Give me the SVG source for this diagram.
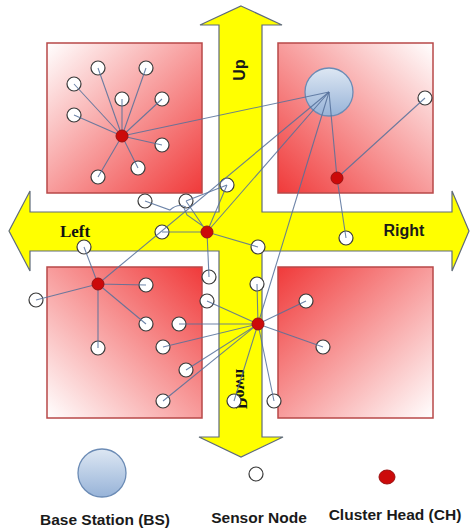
<svg xmlns="http://www.w3.org/2000/svg" width="470" height="529" viewBox="0 0 470 529">
<defs>
<linearGradient id="gTL" x1="0" y1="0" x2="1" y2="1"><stop offset="0" stop-color="#ffffff"/><stop offset="1" stop-color="#f03a3a"/></linearGradient>
<linearGradient id="gTR" x1="1" y1="0" x2="0" y2="1"><stop offset="0" stop-color="#ffffff"/><stop offset="1" stop-color="#f03a3a"/></linearGradient>
<linearGradient id="gBL" x1="0" y1="1" x2="1" y2="0"><stop offset="0" stop-color="#ffffff"/><stop offset="1" stop-color="#f03a3a"/></linearGradient>
<linearGradient id="gBR" x1="1" y1="1" x2="0" y2="0"><stop offset="0" stop-color="#ffffff"/><stop offset="1" stop-color="#f03a3a"/></linearGradient>
<linearGradient id="gBS" x1="0" y1="0" x2="0" y2="1"><stop offset="0" stop-color="#dde7f3"/><stop offset="1" stop-color="#97b3d8"/></linearGradient>
</defs>
<style>
.sq{stroke:#b84848;stroke-width:1.5}
.arrow{fill:#ffff00;stroke:#5f6b7a;stroke-width:1.2}
.sn{fill:#ffffff;stroke:#3a3a3a;stroke-width:1.2}
.ch{fill:#cc0a0a;stroke:#9a1010;stroke-width:1}
.bs{fill:url(#gBS);stroke:#6b8bb5;stroke-width:1.3}
.ln{stroke:#55709a;stroke-width:1.1;fill:none;opacity:0.85}
.lbl{font-family:"Liberation Sans",Arial,sans-serif;font-weight:bold;fill:#1a1a1a}
.serif{font-family:"Liberation Serif","Times New Roman",serif;font-weight:bold;fill:#111}
</style>

<g id="regions">
<rect class="sq" x="47" y="43" width="155" height="150" fill="url(#gTL)"/>
<rect class="sq" x="278" y="43" width="155" height="150" fill="url(#gTR)"/>
<rect class="sq" x="47" y="267" width="155" height="151" fill="url(#gBL)"/>
<rect class="sq" x="278" y="267" width="155" height="151" fill="url(#gBR)"/>
</g>

<g id="arrows">
<polygon class="arrow" points="241,6 282,25 262,25 262,212 452,212 452,191 469,231 452,271 452,251 262,251 262,437 283,437 241,457 199,437 219,437 219,251 30,251 30,271 9,231 30,191 30,212 219,212 219,25 200,25"/>
<text class="lbl" font-size="16" text-anchor="middle" transform="translate(240,70) rotate(-90)" x="0" y="5">Up</text>
<text class="serif" font-size="16" text-anchor="middle" transform="translate(241,389) rotate(90) scale(-1,1)" x="0" y="5">Down</text>
<text class="serif" font-size="17" text-anchor="middle" x="75" y="237">Left</text>
<text class="lbl" font-size="16" text-anchor="middle" x="404" y="236">Right</text>
</g>

<g id="bs"><circle class="bs" cx="329" cy="92" r="24"/></g>

<g id="sensors">
<g id="s-tl1"><circle class="sn" cx="98" cy="68" r="7"/></g>
<g id="s-tl2"><circle class="sn" cx="146" cy="68" r="7"/></g>
<g id="s-tl3"><circle class="sn" cx="74" cy="84" r="7"/></g>
<g id="s-tl4"><circle class="sn" cx="122" cy="99" r="7"/></g>
<g id="s-tl5"><circle class="sn" cx="162" cy="99" r="7"/></g>
<g id="s-tl6"><circle class="sn" cx="74" cy="115" r="7"/></g>
<g id="s-tl7"><circle class="sn" cx="162" cy="145" r="7"/></g>
<g id="s-tl8"><circle class="sn" cx="138" cy="168" r="7"/></g>
<g id="s-tl9"><circle class="sn" cx="98" cy="177" r="7"/></g>
<g id="s-tr1"><circle class="sn" cx="425" cy="98" r="7"/></g>
<g id="s-tr2"><circle class="sn" cx="346" cy="238" r="7"/></g>
<g id="s-c1"><circle class="sn" cx="227" cy="185" r="7"/></g>
<g id="s-c2"><circle class="sn" cx="145" cy="201" r="7"/></g>
<g id="s-c3"><circle class="sn" cx="186" cy="201" r="7"/></g>
<g id="s-c4"><circle class="sn" cx="162" cy="232" r="7"/></g>
<g id="s-c5"><circle class="sn" cx="258" cy="247" r="7"/></g>
<g id="s-c6"><circle class="sn" cx="209" cy="277" r="7"/></g>
<g id="s-l1"><circle class="sn" cx="84" cy="247" r="7"/></g>
<g id="s-l2"><circle class="sn" cx="146" cy="285" r="7"/></g>
<g id="s-l3"><circle class="sn" cx="146" cy="324" r="7"/></g>
<g id="s-l4"><circle class="sn" cx="98" cy="348" r="7"/></g>
<g id="s-l5"><circle class="sn" cx="36" cy="300" r="7"/></g>
<g id="s-d1"><circle class="sn" cx="257" cy="284" r="7"/></g>
<g id="s-d2"><circle class="sn" cx="207" cy="301" r="7"/></g>
<g id="s-d3"><circle class="sn" cx="179" cy="324" r="7"/></g>
<g id="s-d4"><circle class="sn" cx="163" cy="347" r="7"/></g>
<g id="s-d5"><circle class="sn" cx="186" cy="370" r="7"/></g>
<g id="s-d6"><circle class="sn" cx="163" cy="401" r="7"/></g>
<g id="s-d7"><circle class="sn" cx="234" cy="401" r="7"/></g>
<g id="s-d8"><circle class="sn" cx="274" cy="401" r="7"/></g>
<g id="s-d9"><circle class="sn" cx="306" cy="301" r="7"/></g>
<g id="s-d10"><circle class="sn" cx="323" cy="347" r="7"/></g>
</g>

<g id="connectors">
<path class="ln" d="M122,136L98,68M122,136L146,68M122,136L74,84M122,136L122,99M122,136L162,99M122,136L74,115M122,136L162,145M122,136L138,168M122,136L98,177M122,136L329,92"/>
<path class="ln" d="M337,178L425,98M337,178L346,238M337,178L329,92"/>
<path class="ln" d="M207,232L162,232M207,232L258,247M207,232L209,277M207,232L227,185M207,232L186,201M186,201L227,185M145,201L170,210Q178,203 186,207M184,208L187,215L207,229M207,232L329,92"/>
<path class="ln" d="M98,284L84,247M98,284L146,285M98,284L146,324M98,284L98,348M98,284L36,300M98,284L329,92"/>
<path class="ln" d="M258,324L257,284M258,324L207,301M258,324L179,324M258,324L163,347M258,324L186,370M258,324L163,401M258,324L234,401M258,324L274,401M258,324L306,301M258,324L323,347M258,324L329,92"/>
</g>

<g id="heads">
<g id="ch-tl"><circle class="ch" cx="122" cy="136" r="6"/></g>
<g id="ch-tr"><circle class="ch" cx="337" cy="178" r="6"/></g>
<g id="ch-c"><circle class="ch" cx="207" cy="232" r="6"/></g>
<g id="ch-l"><circle class="ch" cx="98" cy="284" r="6"/></g>
<g id="ch-d"><circle class="ch" cx="258" cy="324" r="6"/></g>
</g>

<g id="legend">
<g id="leg-bs"><circle class="bs" cx="102" cy="473" r="24"/><text class="lbl" font-size="15.5" text-anchor="middle" x="105" y="525">Base Station (BS)</text></g>
<g id="leg-sn"><circle class="sn" cx="256" cy="474" r="7"/><text class="lbl" font-size="15.5" text-anchor="middle" x="259" y="523">Sensor Node</text></g>
<g id="leg-ch"><ellipse class="ch" cx="387" cy="477" rx="8" ry="7"/><text class="lbl" font-size="15.5" text-anchor="middle" x="395" y="520">Cluster Head (CH)</text></g>
</g>
</svg>
